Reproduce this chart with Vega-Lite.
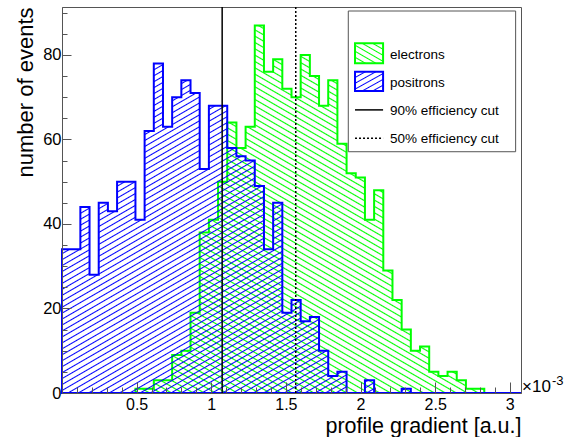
{"$schema":"https://vega.github.io/schema/vega-lite/v6.json","width":459,"height":386,"autosize":"none","padding":{"left":62,"top":7,"right":44,"bottom":44},"background":"white","config":{"font":"Liberation Sans","view":{"stroke":"#555","strokeWidth":1}},
"resolve":{"axis":{"x":"independent","y":"independent"}},
"data":{"values":[
{"x":0,"electrons":0,"positrons":34},{"x":0.0615,"electrons":0,"positrons":34},{"x":0.123,"electrons":0,"positrons":44},{"x":0.1845,"electrons":0,"positrons":28},{"x":0.246,"electrons":0,"positrons":45},{"x":0.3075,"electrons":0,"positrons":43},{"x":0.369,"electrons":0,"positrons":50},{"x":0.4305,"electrons":0,"positrons":50},{"x":0.492,"electrons":1,"positrons":41},{"x":0.5535,"electrons":1,"positrons":62},{"x":0.615,"electrons":3,"positrons":78},{"x":0.6765,"electrons":3,"positrons":63},{"x":0.738,"electrons":9,"positrons":70},{"x":0.7995,"electrons":10,"positrons":74},{"x":0.861,"electrons":19,"positrons":71},{"x":0.9225,"electrons":38,"positrons":53},{"x":0.984,"electrons":41,"positrons":68},{"x":1.0455,"electrons":50,"positrons":68},{"x":1.107,"electrons":64,"positrons":58},{"x":1.1685,"electrons":58,"positrons":56},{"x":1.23,"electrons":63,"positrons":55},{"x":1.2915,"electrons":87,"positrons":49},{"x":1.353,"electrons":76,"positrons":34},{"x":1.4145,"electrons":79,"positrons":45},{"x":1.476,"electrons":72,"positrons":19},{"x":1.5375,"electrons":70,"positrons":22},{"x":1.599,"electrons":80,"positrons":17},{"x":1.6605,"electrons":75,"positrons":18},{"x":1.722,"electrons":68,"positrons":10},{"x":1.7835,"electrons":74,"positrons":4},{"x":1.845,"electrons":59,"positrons":5},{"x":1.9065,"electrons":52,"positrons":0},{"x":1.968,"electrons":51,"positrons":0},{"x":2.0295,"electrons":41,"positrons":3},{"x":2.091,"electrons":48,"positrons":0},{"x":2.1525,"electrons":29,"positrons":0},{"x":2.214,"electrons":22,"positrons":0},{"x":2.2755,"electrons":15,"positrons":1},{"x":2.337,"electrons":10,"positrons":0},{"x":2.3985,"electrons":11,"positrons":0},{"x":2.46,"electrons":5,"positrons":0},{"x":2.5215,"electrons":4,"positrons":0},{"x":2.583,"electrons":5,"positrons":0},{"x":2.6445,"electrons":3,"positrons":0},{"x":2.706,"electrons":1,"positrons":0},{"x":2.7675,"electrons":1,"positrons":0},{"x":2.829,"electrons":0,"positrons":0},{"x":2.8905,"electrons":0,"positrons":0},{"x":2.952,"electrons":0,"positrons":0},{"x":3.0135,"electrons":0,"positrons":0},{"x":3.075,"electrons":0,"positrons":0}]},
"layer":[
{"mark":{"type":"area","interpolate":"step-after","stroke":"#0f0","strokeWidth":2,"fill":{"gradient":"linear","x1":0,"y1":1,"x2":0.8167,"y2":-0.1323,"stops":[{"offset":0,"color":"#0f0"},{"offset":0.002,"color":"#0f00"},
{"offset":0.008,"color":"#0f00"},{"offset":0.01,"color":"#0f0"},{"offset":0.012,"color":"#0f00"},{"offset":0.018,"color":"#0f00"},{"offset":0.02,"color":"#0f0"},{"offset":0.022,"color":"#0f00"},{"offset":0.028,"color":"#0f00"},{"offset":0.03,"color":"#0f0"},{"offset":0.032,"color":"#0f00"},{"offset":0.038,"color":"#0f00"},{"offset":0.04,"color":"#0f0"},{"offset":0.042,"color":"#0f00"},{"offset":0.048,"color":"#0f00"},{"offset":0.05,"color":"#0f0"},{"offset":0.052,"color":"#0f00"},{"offset":0.058,"color":"#0f00"},{"offset":0.06,"color":"#0f0"},{"offset":0.062,"color":"#0f00"},{"offset":0.068,"color":"#0f00"},{"offset":0.07,"color":"#0f0"},{"offset":0.072,"color":"#0f00"},{"offset":0.078,"color":"#0f00"},{"offset":0.08,"color":"#0f0"},{"offset":0.082,"color":"#0f00"},{"offset":0.088,"color":"#0f00"},{"offset":0.09,"color":"#0f0"},{"offset":0.092,"color":"#0f00"},
{"offset":0.098,"color":"#0f00"},{"offset":0.1,"color":"#0f0"},{"offset":0.102,"color":"#0f00"},{"offset":0.108,"color":"#0f00"},{"offset":0.11,"color":"#0f0"},{"offset":0.112,"color":"#0f00"},{"offset":0.118,"color":"#0f00"},{"offset":0.12,"color":"#0f0"},{"offset":0.122,"color":"#0f00"},{"offset":0.128,"color":"#0f00"},{"offset":0.13,"color":"#0f0"},{"offset":0.132,"color":"#0f00"},{"offset":0.138,"color":"#0f00"},{"offset":0.14,"color":"#0f0"},{"offset":0.142,"color":"#0f00"},{"offset":0.148,"color":"#0f00"},{"offset":0.15,"color":"#0f0"},{"offset":0.152,"color":"#0f00"},{"offset":0.158,"color":"#0f00"},{"offset":0.16,"color":"#0f0"},{"offset":0.162,"color":"#0f00"},{"offset":0.168,"color":"#0f00"},{"offset":0.17,"color":"#0f0"},{"offset":0.172,"color":"#0f00"},{"offset":0.178,"color":"#0f00"},{"offset":0.18,"color":"#0f0"},{"offset":0.182,"color":"#0f00"},{"offset":0.188,"color":"#0f00"},{"offset":0.19,"color":"#0f0"},{"offset":0.192,"color":"#0f00"},
{"offset":0.198,"color":"#0f00"},{"offset":0.2,"color":"#0f0"},{"offset":0.202,"color":"#0f00"},{"offset":0.208,"color":"#0f00"},{"offset":0.21,"color":"#0f0"},{"offset":0.212,"color":"#0f00"},{"offset":0.218,"color":"#0f00"},{"offset":0.22,"color":"#0f0"},{"offset":0.222,"color":"#0f00"},{"offset":0.228,"color":"#0f00"},{"offset":0.23,"color":"#0f0"},{"offset":0.232,"color":"#0f00"},{"offset":0.238,"color":"#0f00"},{"offset":0.24,"color":"#0f0"},{"offset":0.242,"color":"#0f00"},{"offset":0.248,"color":"#0f00"},{"offset":0.25,"color":"#0f0"},{"offset":0.252,"color":"#0f00"},{"offset":0.258,"color":"#0f00"},{"offset":0.26,"color":"#0f0"},{"offset":0.262,"color":"#0f00"},{"offset":0.268,"color":"#0f00"},{"offset":0.27,"color":"#0f0"},{"offset":0.272,"color":"#0f00"},{"offset":0.278,"color":"#0f00"},{"offset":0.28,"color":"#0f0"},{"offset":0.282,"color":"#0f00"},{"offset":0.288,"color":"#0f00"},{"offset":0.29,"color":"#0f0"},{"offset":0.292,"color":"#0f00"},
{"offset":0.298,"color":"#0f00"},{"offset":0.3,"color":"#0f0"},{"offset":0.302,"color":"#0f00"},{"offset":0.308,"color":"#0f00"},{"offset":0.31,"color":"#0f0"},{"offset":0.312,"color":"#0f00"},{"offset":0.318,"color":"#0f00"},{"offset":0.32,"color":"#0f0"},{"offset":0.322,"color":"#0f00"},{"offset":0.328,"color":"#0f00"},{"offset":0.33,"color":"#0f0"},{"offset":0.332,"color":"#0f00"},{"offset":0.338,"color":"#0f00"},{"offset":0.34,"color":"#0f0"},{"offset":0.342,"color":"#0f00"},{"offset":0.348,"color":"#0f00"},{"offset":0.35,"color":"#0f0"},{"offset":0.352,"color":"#0f00"},{"offset":0.358,"color":"#0f00"},{"offset":0.36,"color":"#0f0"},{"offset":0.362,"color":"#0f00"},{"offset":0.368,"color":"#0f00"},{"offset":0.37,"color":"#0f0"},{"offset":0.372,"color":"#0f00"},{"offset":0.378,"color":"#0f00"},{"offset":0.38,"color":"#0f0"},{"offset":0.382,"color":"#0f00"},{"offset":0.388,"color":"#0f00"},{"offset":0.39,"color":"#0f0"},{"offset":0.392,"color":"#0f00"},
{"offset":0.398,"color":"#0f00"},{"offset":0.4,"color":"#0f0"},{"offset":0.402,"color":"#0f00"},{"offset":0.408,"color":"#0f00"},{"offset":0.41,"color":"#0f0"},{"offset":0.412,"color":"#0f00"},{"offset":0.418,"color":"#0f00"},{"offset":0.42,"color":"#0f0"},{"offset":0.422,"color":"#0f00"},{"offset":0.428,"color":"#0f00"},{"offset":0.43,"color":"#0f0"},{"offset":0.432,"color":"#0f00"},{"offset":0.438,"color":"#0f00"},{"offset":0.44,"color":"#0f0"},{"offset":0.442,"color":"#0f00"},{"offset":0.448,"color":"#0f00"},{"offset":0.45,"color":"#0f0"},{"offset":0.452,"color":"#0f00"},{"offset":0.458,"color":"#0f00"},{"offset":0.46,"color":"#0f0"},{"offset":0.462,"color":"#0f00"},{"offset":0.468,"color":"#0f00"},{"offset":0.47,"color":"#0f0"},{"offset":0.472,"color":"#0f00"},{"offset":0.478,"color":"#0f00"},{"offset":0.48,"color":"#0f0"},{"offset":0.482,"color":"#0f00"},{"offset":0.488,"color":"#0f00"},{"offset":0.49,"color":"#0f0"},{"offset":0.492,"color":"#0f00"},
{"offset":0.498,"color":"#0f00"},{"offset":0.5,"color":"#0f0"},{"offset":0.502,"color":"#0f00"},{"offset":0.508,"color":"#0f00"},{"offset":0.51,"color":"#0f0"},{"offset":0.512,"color":"#0f00"},{"offset":0.518,"color":"#0f00"},{"offset":0.52,"color":"#0f0"},{"offset":0.522,"color":"#0f00"},{"offset":0.528,"color":"#0f00"},{"offset":0.53,"color":"#0f0"},{"offset":0.532,"color":"#0f00"},{"offset":0.538,"color":"#0f00"},{"offset":0.54,"color":"#0f0"},{"offset":0.542,"color":"#0f00"},{"offset":0.548,"color":"#0f00"},{"offset":0.55,"color":"#0f0"},{"offset":0.552,"color":"#0f00"},{"offset":0.558,"color":"#0f00"},{"offset":0.56,"color":"#0f0"},{"offset":0.562,"color":"#0f00"},{"offset":0.568,"color":"#0f00"},{"offset":0.57,"color":"#0f0"},{"offset":0.572,"color":"#0f00"},{"offset":0.578,"color":"#0f00"},{"offset":0.58,"color":"#0f0"},{"offset":0.582,"color":"#0f00"},{"offset":0.588,"color":"#0f00"},{"offset":0.59,"color":"#0f0"},{"offset":0.592,"color":"#0f00"},
{"offset":0.598,"color":"#0f00"},{"offset":0.6,"color":"#0f0"},{"offset":0.602,"color":"#0f00"},{"offset":0.608,"color":"#0f00"},{"offset":0.61,"color":"#0f0"},{"offset":0.612,"color":"#0f00"},{"offset":0.618,"color":"#0f00"},{"offset":0.62,"color":"#0f0"},{"offset":0.622,"color":"#0f00"},{"offset":0.628,"color":"#0f00"},{"offset":0.63,"color":"#0f0"},{"offset":0.632,"color":"#0f00"},{"offset":0.638,"color":"#0f00"},{"offset":0.64,"color":"#0f0"},{"offset":0.642,"color":"#0f00"},{"offset":0.648,"color":"#0f00"},{"offset":0.65,"color":"#0f0"},{"offset":0.652,"color":"#0f00"},{"offset":0.658,"color":"#0f00"},{"offset":0.66,"color":"#0f0"},{"offset":0.662,"color":"#0f00"},{"offset":0.668,"color":"#0f00"},{"offset":0.67,"color":"#0f0"},{"offset":0.672,"color":"#0f00"},{"offset":0.678,"color":"#0f00"},{"offset":0.68,"color":"#0f0"},{"offset":0.682,"color":"#0f00"},{"offset":0.688,"color":"#0f00"},{"offset":0.69,"color":"#0f0"},{"offset":0.692,"color":"#0f00"},
{"offset":0.698,"color":"#0f00"},{"offset":0.7,"color":"#0f0"},{"offset":0.702,"color":"#0f00"},{"offset":0.708,"color":"#0f00"},{"offset":0.71,"color":"#0f0"},{"offset":0.712,"color":"#0f00"},{"offset":0.718,"color":"#0f00"},{"offset":0.72,"color":"#0f0"},{"offset":0.722,"color":"#0f00"},{"offset":0.728,"color":"#0f00"},{"offset":0.73,"color":"#0f0"},{"offset":0.732,"color":"#0f00"},{"offset":0.738,"color":"#0f00"},{"offset":0.74,"color":"#0f0"},{"offset":0.742,"color":"#0f00"},{"offset":0.748,"color":"#0f00"},{"offset":0.75,"color":"#0f0"},{"offset":0.752,"color":"#0f00"},{"offset":0.758,"color":"#0f00"},{"offset":0.76,"color":"#0f0"},{"offset":0.762,"color":"#0f00"},{"offset":0.768,"color":"#0f00"},{"offset":0.77,"color":"#0f0"},{"offset":0.772,"color":"#0f00"},{"offset":0.778,"color":"#0f00"},{"offset":0.78,"color":"#0f0"},{"offset":0.782,"color":"#0f00"},{"offset":0.788,"color":"#0f00"},{"offset":0.79,"color":"#0f0"},{"offset":0.792,"color":"#0f00"},
{"offset":0.798,"color":"#0f00"},{"offset":0.8,"color":"#0f0"},{"offset":0.802,"color":"#0f00"},{"offset":0.808,"color":"#0f00"},{"offset":0.81,"color":"#0f0"},{"offset":0.812,"color":"#0f00"},{"offset":0.818,"color":"#0f00"},{"offset":0.82,"color":"#0f0"},{"offset":0.822,"color":"#0f00"},{"offset":0.828,"color":"#0f00"},{"offset":0.83,"color":"#0f0"},{"offset":0.832,"color":"#0f00"},{"offset":0.838,"color":"#0f00"},{"offset":0.84,"color":"#0f0"},{"offset":0.842,"color":"#0f00"},{"offset":0.848,"color":"#0f00"},{"offset":0.85,"color":"#0f0"},{"offset":0.852,"color":"#0f00"},{"offset":0.858,"color":"#0f00"},{"offset":0.86,"color":"#0f0"},{"offset":0.862,"color":"#0f00"},{"offset":0.868,"color":"#0f00"},{"offset":0.87,"color":"#0f0"},{"offset":0.872,"color":"#0f00"},{"offset":0.878,"color":"#0f00"},{"offset":0.88,"color":"#0f0"},{"offset":0.882,"color":"#0f00"},{"offset":0.888,"color":"#0f00"},{"offset":0.89,"color":"#0f0"},{"offset":0.892,"color":"#0f00"},
{"offset":0.898,"color":"#0f00"},{"offset":0.9,"color":"#0f0"},{"offset":0.902,"color":"#0f00"},{"offset":0.908,"color":"#0f00"},{"offset":0.91,"color":"#0f0"},{"offset":0.912,"color":"#0f00"},{"offset":0.918,"color":"#0f00"},{"offset":0.92,"color":"#0f0"},{"offset":0.922,"color":"#0f00"},{"offset":0.928,"color":"#0f00"},{"offset":0.93,"color":"#0f0"},{"offset":0.932,"color":"#0f00"},{"offset":0.938,"color":"#0f00"},{"offset":0.94,"color":"#0f0"},{"offset":0.942,"color":"#0f00"},{"offset":0.948,"color":"#0f00"},{"offset":0.95,"color":"#0f0"},{"offset":0.952,"color":"#0f00"},{"offset":0.958,"color":"#0f00"},{"offset":0.96,"color":"#0f0"},{"offset":0.962,"color":"#0f00"},{"offset":0.968,"color":"#0f00"},{"offset":0.97,"color":"#0f0"},{"offset":0.972,"color":"#0f00"},{"offset":0.978,"color":"#0f00"},{"offset":0.98,"color":"#0f0"},{"offset":0.982,"color":"#0f00"},{"offset":0.988,"color":"#0f00"},{"offset":0.99,"color":"#0f0"},{"offset":0.992,"color":"#0f00"},
{"offset":0.998,"color":"#0f00"},{"offset":1,"color":"#0f0"}]}},
"encoding":{"x":{"field":"x","type":"quantitative","scale":{"domain":[0,3.075],"nice":false,"zero":false},"axis":{"orient":"bottom","title":"profile gradient [a.u.]","zindex":1,"values":[0.5,1,1.5,2,2.5,3],"format":"~g","tickSize":-11,"labelPadding":14,"labelFontSize":16,"labelColor":"black","labelFlush":false,"labelOverlap":false,"domain":true,"domainColor":"#555","tickColor":"#555","grid":false,"titleFontSize":21.5,"titleFontWeight":"normal","titleColor":"black","titleAlign":"right","titleAnchor":"end","titleBaseline":"alphabetic","titleX":459,"titleY":39}},
"y":{"field":"electrons","type":"quantitative","stack":null,"scale":{"domain":[0,91.35],"nice":false,"zero":false},"axis":{"orient":"left","title":"number of events","zindex":1,"values":[0,20,40,60,80],"tickSize":-9,"labelPadding":10,"labelFontSize":16.5,"labelColor":"black","labelOverlap":false,"labelFlush":false,"domainColor":"#555","tickColor":"#555","grid":false,"titleFontSize":22,"titleFontWeight":"normal","titleColor":"black","titleAngle":270,"titleAlign":"right","titleAnchor":"end","titleBaseline":"alphabetic","titleX":-30,"titleY":0}}}},
{"mark":{"type":"area","interpolate":"step-after","stroke":"#00f","strokeWidth":2,"fill":{"gradient":"linear","x1":0,"y1":0,"x2":0.8812,"y2":1.0956,"stops":[{"offset":0,"color":"#00f"},{"offset":0.002,"color":"#00f0"},
{"offset":0.008,"color":"#00f0"},{"offset":0.01,"color":"#00f"},{"offset":0.012,"color":"#00f0"},{"offset":0.018,"color":"#00f0"},{"offset":0.02,"color":"#00f"},{"offset":0.022,"color":"#00f0"},{"offset":0.028,"color":"#00f0"},{"offset":0.03,"color":"#00f"},{"offset":0.032,"color":"#00f0"},{"offset":0.038,"color":"#00f0"},{"offset":0.04,"color":"#00f"},{"offset":0.042,"color":"#00f0"},{"offset":0.048,"color":"#00f0"},{"offset":0.05,"color":"#00f"},{"offset":0.052,"color":"#00f0"},{"offset":0.058,"color":"#00f0"},{"offset":0.06,"color":"#00f"},{"offset":0.062,"color":"#00f0"},{"offset":0.068,"color":"#00f0"},{"offset":0.07,"color":"#00f"},{"offset":0.072,"color":"#00f0"},{"offset":0.078,"color":"#00f0"},{"offset":0.08,"color":"#00f"},{"offset":0.082,"color":"#00f0"},{"offset":0.088,"color":"#00f0"},{"offset":0.09,"color":"#00f"},{"offset":0.092,"color":"#00f0"},
{"offset":0.098,"color":"#00f0"},{"offset":0.1,"color":"#00f"},{"offset":0.102,"color":"#00f0"},{"offset":0.108,"color":"#00f0"},{"offset":0.11,"color":"#00f"},{"offset":0.112,"color":"#00f0"},{"offset":0.118,"color":"#00f0"},{"offset":0.12,"color":"#00f"},{"offset":0.122,"color":"#00f0"},{"offset":0.128,"color":"#00f0"},{"offset":0.13,"color":"#00f"},{"offset":0.132,"color":"#00f0"},{"offset":0.138,"color":"#00f0"},{"offset":0.14,"color":"#00f"},{"offset":0.142,"color":"#00f0"},{"offset":0.148,"color":"#00f0"},{"offset":0.15,"color":"#00f"},{"offset":0.152,"color":"#00f0"},{"offset":0.158,"color":"#00f0"},{"offset":0.16,"color":"#00f"},{"offset":0.162,"color":"#00f0"},{"offset":0.168,"color":"#00f0"},{"offset":0.17,"color":"#00f"},{"offset":0.172,"color":"#00f0"},{"offset":0.178,"color":"#00f0"},{"offset":0.18,"color":"#00f"},{"offset":0.182,"color":"#00f0"},{"offset":0.188,"color":"#00f0"},{"offset":0.19,"color":"#00f"},{"offset":0.192,"color":"#00f0"},
{"offset":0.198,"color":"#00f0"},{"offset":0.2,"color":"#00f"},{"offset":0.202,"color":"#00f0"},{"offset":0.208,"color":"#00f0"},{"offset":0.21,"color":"#00f"},{"offset":0.212,"color":"#00f0"},{"offset":0.218,"color":"#00f0"},{"offset":0.22,"color":"#00f"},{"offset":0.222,"color":"#00f0"},{"offset":0.228,"color":"#00f0"},{"offset":0.23,"color":"#00f"},{"offset":0.232,"color":"#00f0"},{"offset":0.238,"color":"#00f0"},{"offset":0.24,"color":"#00f"},{"offset":0.242,"color":"#00f0"},{"offset":0.248,"color":"#00f0"},{"offset":0.25,"color":"#00f"},{"offset":0.252,"color":"#00f0"},{"offset":0.258,"color":"#00f0"},{"offset":0.26,"color":"#00f"},{"offset":0.262,"color":"#00f0"},{"offset":0.268,"color":"#00f0"},{"offset":0.27,"color":"#00f"},{"offset":0.272,"color":"#00f0"},{"offset":0.278,"color":"#00f0"},{"offset":0.28,"color":"#00f"},{"offset":0.282,"color":"#00f0"},{"offset":0.288,"color":"#00f0"},{"offset":0.29,"color":"#00f"},{"offset":0.292,"color":"#00f0"},
{"offset":0.298,"color":"#00f0"},{"offset":0.3,"color":"#00f"},{"offset":0.302,"color":"#00f0"},{"offset":0.308,"color":"#00f0"},{"offset":0.31,"color":"#00f"},{"offset":0.312,"color":"#00f0"},{"offset":0.318,"color":"#00f0"},{"offset":0.32,"color":"#00f"},{"offset":0.322,"color":"#00f0"},{"offset":0.328,"color":"#00f0"},{"offset":0.33,"color":"#00f"},{"offset":0.332,"color":"#00f0"},{"offset":0.338,"color":"#00f0"},{"offset":0.34,"color":"#00f"},{"offset":0.342,"color":"#00f0"},{"offset":0.348,"color":"#00f0"},{"offset":0.35,"color":"#00f"},{"offset":0.352,"color":"#00f0"},{"offset":0.358,"color":"#00f0"},{"offset":0.36,"color":"#00f"},{"offset":0.362,"color":"#00f0"},{"offset":0.368,"color":"#00f0"},{"offset":0.37,"color":"#00f"},{"offset":0.372,"color":"#00f0"},{"offset":0.378,"color":"#00f0"},{"offset":0.38,"color":"#00f"},{"offset":0.382,"color":"#00f0"},{"offset":0.388,"color":"#00f0"},{"offset":0.39,"color":"#00f"},{"offset":0.392,"color":"#00f0"},
{"offset":0.398,"color":"#00f0"},{"offset":0.4,"color":"#00f"},{"offset":0.402,"color":"#00f0"},{"offset":0.408,"color":"#00f0"},{"offset":0.41,"color":"#00f"},{"offset":0.412,"color":"#00f0"},{"offset":0.418,"color":"#00f0"},{"offset":0.42,"color":"#00f"},{"offset":0.422,"color":"#00f0"},{"offset":0.428,"color":"#00f0"},{"offset":0.43,"color":"#00f"},{"offset":0.432,"color":"#00f0"},{"offset":0.438,"color":"#00f0"},{"offset":0.44,"color":"#00f"},{"offset":0.442,"color":"#00f0"},{"offset":0.448,"color":"#00f0"},{"offset":0.45,"color":"#00f"},{"offset":0.452,"color":"#00f0"},{"offset":0.458,"color":"#00f0"},{"offset":0.46,"color":"#00f"},{"offset":0.462,"color":"#00f0"},{"offset":0.468,"color":"#00f0"},{"offset":0.47,"color":"#00f"},{"offset":0.472,"color":"#00f0"},{"offset":0.478,"color":"#00f0"},{"offset":0.48,"color":"#00f"},{"offset":0.482,"color":"#00f0"},{"offset":0.488,"color":"#00f0"},{"offset":0.49,"color":"#00f"},{"offset":0.492,"color":"#00f0"},
{"offset":0.498,"color":"#00f0"},{"offset":0.5,"color":"#00f"},{"offset":0.502,"color":"#00f0"},{"offset":0.508,"color":"#00f0"},{"offset":0.51,"color":"#00f"},{"offset":0.512,"color":"#00f0"},{"offset":0.518,"color":"#00f0"},{"offset":0.52,"color":"#00f"},{"offset":0.522,"color":"#00f0"},{"offset":0.528,"color":"#00f0"},{"offset":0.53,"color":"#00f"},{"offset":0.532,"color":"#00f0"},{"offset":0.538,"color":"#00f0"},{"offset":0.54,"color":"#00f"},{"offset":0.542,"color":"#00f0"},{"offset":0.548,"color":"#00f0"},{"offset":0.55,"color":"#00f"},{"offset":0.552,"color":"#00f0"},{"offset":0.558,"color":"#00f0"},{"offset":0.56,"color":"#00f"},{"offset":0.562,"color":"#00f0"},{"offset":0.568,"color":"#00f0"},{"offset":0.57,"color":"#00f"},{"offset":0.572,"color":"#00f0"},{"offset":0.578,"color":"#00f0"},{"offset":0.58,"color":"#00f"},{"offset":0.582,"color":"#00f0"},{"offset":0.588,"color":"#00f0"},{"offset":0.59,"color":"#00f"},{"offset":0.592,"color":"#00f0"},
{"offset":0.598,"color":"#00f0"},{"offset":0.6,"color":"#00f"},{"offset":0.602,"color":"#00f0"},{"offset":0.608,"color":"#00f0"},{"offset":0.61,"color":"#00f"},{"offset":0.612,"color":"#00f0"},{"offset":0.618,"color":"#00f0"},{"offset":0.62,"color":"#00f"},{"offset":0.622,"color":"#00f0"},{"offset":0.628,"color":"#00f0"},{"offset":0.63,"color":"#00f"},{"offset":0.632,"color":"#00f0"},{"offset":0.638,"color":"#00f0"},{"offset":0.64,"color":"#00f"},{"offset":0.642,"color":"#00f0"},{"offset":0.648,"color":"#00f0"},{"offset":0.65,"color":"#00f"},{"offset":0.652,"color":"#00f0"},{"offset":0.658,"color":"#00f0"},{"offset":0.66,"color":"#00f"},{"offset":0.662,"color":"#00f0"},{"offset":0.668,"color":"#00f0"},{"offset":0.67,"color":"#00f"},{"offset":0.672,"color":"#00f0"},{"offset":0.678,"color":"#00f0"},{"offset":0.68,"color":"#00f"},{"offset":0.682,"color":"#00f0"},{"offset":0.688,"color":"#00f0"},{"offset":0.69,"color":"#00f"},{"offset":0.692,"color":"#00f0"},
{"offset":0.698,"color":"#00f0"},{"offset":0.7,"color":"#00f"},{"offset":0.702,"color":"#00f0"},{"offset":0.708,"color":"#00f0"},{"offset":0.71,"color":"#00f"},{"offset":0.712,"color":"#00f0"},{"offset":0.718,"color":"#00f0"},{"offset":0.72,"color":"#00f"},{"offset":0.722,"color":"#00f0"},{"offset":0.728,"color":"#00f0"},{"offset":0.73,"color":"#00f"},{"offset":0.732,"color":"#00f0"},{"offset":0.738,"color":"#00f0"},{"offset":0.74,"color":"#00f"},{"offset":0.742,"color":"#00f0"},{"offset":0.748,"color":"#00f0"},{"offset":0.75,"color":"#00f"},{"offset":0.752,"color":"#00f0"},{"offset":0.758,"color":"#00f0"},{"offset":0.76,"color":"#00f"},{"offset":0.762,"color":"#00f0"},{"offset":0.768,"color":"#00f0"},{"offset":0.77,"color":"#00f"},{"offset":0.772,"color":"#00f0"},{"offset":0.778,"color":"#00f0"},{"offset":0.78,"color":"#00f"},{"offset":0.782,"color":"#00f0"},{"offset":0.788,"color":"#00f0"},{"offset":0.79,"color":"#00f"},{"offset":0.792,"color":"#00f0"},
{"offset":0.798,"color":"#00f0"},{"offset":0.8,"color":"#00f"},{"offset":0.802,"color":"#00f0"},{"offset":0.808,"color":"#00f0"},{"offset":0.81,"color":"#00f"},{"offset":0.812,"color":"#00f0"},{"offset":0.818,"color":"#00f0"},{"offset":0.82,"color":"#00f"},{"offset":0.822,"color":"#00f0"},{"offset":0.828,"color":"#00f0"},{"offset":0.83,"color":"#00f"},{"offset":0.832,"color":"#00f0"},{"offset":0.838,"color":"#00f0"},{"offset":0.84,"color":"#00f"},{"offset":0.842,"color":"#00f0"},{"offset":0.848,"color":"#00f0"},{"offset":0.85,"color":"#00f"},{"offset":0.852,"color":"#00f0"},{"offset":0.858,"color":"#00f0"},{"offset":0.86,"color":"#00f"},{"offset":0.862,"color":"#00f0"},{"offset":0.868,"color":"#00f0"},{"offset":0.87,"color":"#00f"},{"offset":0.872,"color":"#00f0"},{"offset":0.878,"color":"#00f0"},{"offset":0.88,"color":"#00f"},{"offset":0.882,"color":"#00f0"},{"offset":0.888,"color":"#00f0"},{"offset":0.89,"color":"#00f"},{"offset":0.892,"color":"#00f0"},
{"offset":0.898,"color":"#00f0"},{"offset":0.9,"color":"#00f"},{"offset":0.902,"color":"#00f0"},{"offset":0.908,"color":"#00f0"},{"offset":0.91,"color":"#00f"},{"offset":0.912,"color":"#00f0"},{"offset":0.918,"color":"#00f0"},{"offset":0.92,"color":"#00f"},{"offset":0.922,"color":"#00f0"},{"offset":0.928,"color":"#00f0"},{"offset":0.93,"color":"#00f"},{"offset":0.932,"color":"#00f0"},{"offset":0.938,"color":"#00f0"},{"offset":0.94,"color":"#00f"},{"offset":0.942,"color":"#00f0"},{"offset":0.948,"color":"#00f0"},{"offset":0.95,"color":"#00f"},{"offset":0.952,"color":"#00f0"},{"offset":0.958,"color":"#00f0"},{"offset":0.96,"color":"#00f"},{"offset":0.962,"color":"#00f0"},{"offset":0.968,"color":"#00f0"},{"offset":0.97,"color":"#00f"},{"offset":0.972,"color":"#00f0"},{"offset":0.978,"color":"#00f0"},{"offset":0.98,"color":"#00f"},{"offset":0.982,"color":"#00f0"},{"offset":0.988,"color":"#00f0"},{"offset":0.99,"color":"#00f"},{"offset":0.992,"color":"#00f0"},
{"offset":0.998,"color":"#00f0"},{"offset":1,"color":"#00f"}]}},
"encoding":{"x":{"field":"x","type":"quantitative","axis":{"orient":"bottom","title":null,"zindex":1,"values":[0.1,0.2,0.3,0.4,0.6,0.7,0.8,0.9,1.1,1.2,1.3,1.4,1.6,1.7,1.8,1.9,2.1,2.2,2.3,2.4,2.6,2.7,2.8,2.9],"labels":false,"domain":false,"tickSize":-6,"tickColor":"#555","grid":false}},"y":{"field":"positrons","type":"quantitative","stack":null,"axis":{"orient":"left","title":null,"zindex":1,"values":[5,10,15,25,30,35,45,50,55,65,70,75,85,90],"labels":false,"domain":false,"tickSize":-5,"tickColor":"#555","grid":false}}}},
{"data":{"values":[{}]},"mark":{"type":"rule","color":"black","strokeWidth":1.5},"encoding":{"x":{"datum":1.073,"axis":null}}},
{"data":{"values":[{}]},"mark":{"type":"rule","color":"black","strokeWidth":1.5,"strokeDash":[2,2]},"encoding":{"x":{"datum":1.566,"axis":null}}},
{"data":{"values":[{}]},"mark":{"type":"rect","fill":"white","stroke":"#555","strokeWidth":1},"encoding":{"x":{"datum":1.918,"axis":null},"x2":{"datum":3.039},"y":{"datum":90.4,"axis":null},"y2":{"datum":57.1}}},
{"data":{"values":[{}]},"mark":{"type":"rect","stroke":"#0f0","strokeWidth":2,"fill":{"gradient":"linear","x1":0,"y1":1,"x2":0.885,"y2":-0.094,"stops":[{"offset":0,"color":"#0f0"},{"offset":0.032,"color":"#0f00"},{"offset":0.135,"color":"#0f00"},{"offset":0.167,"color":"#0f0"},{"offset":0.199,"color":"#0f00"},{"offset":0.301,"color":"#0f00"},{"offset":0.333,"color":"#0f0"},{"offset":0.365,"color":"#0f00"},{"offset":0.468,"color":"#0f00"},{"offset":0.5,"color":"#0f0"},{"offset":0.532,"color":"#0f00"},{"offset":0.635,"color":"#0f00"},{"offset":0.667,"color":"#0f0"},{"offset":0.699,"color":"#0f00"},{"offset":0.801,"color":"#0f00"},{"offset":0.833,"color":"#0f0"},{"offset":0.865,"color":"#0f00"},{"offset":0.968,"color":"#0f00"},{"offset":1,"color":"#0f0"}]}},"encoding":{"x":{"datum":1.963,"axis":null},"x2":{"datum":2.151},"y":{"datum":82.76,"axis":null},"y2":{"datum":78.03}}},
{"data":{"values":[{}]},"mark":{"type":"rect","stroke":"#00f","strokeWidth":2,"fill":{"gradient":"linear","x1":0,"y1":0,"x2":0.885,"y2":1.094,"stops":[{"offset":0,"color":"#00f"},{"offset":0.032,"color":"#00f0"},{"offset":0.135,"color":"#00f0"},{"offset":0.167,"color":"#00f"},{"offset":0.199,"color":"#00f0"},{"offset":0.301,"color":"#00f0"},{"offset":0.333,"color":"#00f"},{"offset":0.365,"color":"#00f0"},{"offset":0.468,"color":"#00f0"},{"offset":0.5,"color":"#00f"},{"offset":0.532,"color":"#00f0"},{"offset":0.635,"color":"#00f0"},{"offset":0.667,"color":"#00f"},{"offset":0.699,"color":"#00f0"},{"offset":0.801,"color":"#00f0"},{"offset":0.833,"color":"#00f"},{"offset":0.865,"color":"#00f0"},{"offset":0.968,"color":"#00f0"},{"offset":1,"color":"#00f"}]}},"encoding":{"x":{"datum":1.963,"axis":null},"x2":{"datum":2.151},"y":{"datum":76.04,"axis":null},"y2":{"datum":71.47}}},
{"data":{"values":[{}]},"mark":{"type":"rule","color":"black","strokeWidth":1.5},"encoding":{"x":{"datum":1.963,"axis":null},"x2":{"datum":2.151},"y":{"datum":67.0,"axis":null}}},
{"data":{"values":[{}]},"mark":{"type":"rule","color":"black","strokeWidth":1.5,"strokeDash":[2,2]},"encoding":{"x":{"datum":1.963,"axis":null},"x2":{"datum":2.151},"y":{"datum":60.3,"axis":null}}},
{"data":{"values":[{}]},"mark":{"type":"text","text":"electrons","align":"left","baseline":"middle","fontSize":13.5,"color":"black"},"encoding":{"x":{"datum":2.198,"axis":null},"y":{"datum":80.07,"axis":null}}},
{"data":{"values":[{}]},"mark":{"type":"text","text":"positrons","align":"left","baseline":"middle","fontSize":13.5,"color":"black"},"encoding":{"x":{"datum":2.198,"axis":null},"y":{"datum":73.29,"axis":null}}},
{"data":{"values":[{}]},"mark":{"type":"text","text":"90% efficiency cut","align":"left","baseline":"middle","fontSize":13.5,"color":"black"},"encoding":{"x":{"datum":2.198,"axis":null},"y":{"datum":66.74,"axis":null}}},
{"data":{"values":[{}]},"mark":{"type":"text","text":"50% efficiency cut","align":"left","baseline":"middle","fontSize":13.5,"color":"black"},"encoding":{"x":{"datum":2.198,"axis":null},"y":{"datum":60.11,"axis":null}}},
{"data":{"values":[{}]},"mark":{"type":"text","text":"×10","align":"left","baseline":"alphabetic","fontSize":17,"color":"black","dx":1,"dy":-1},"encoding":{"x":{"datum":3.075,"axis":null},"y":{"datum":0,"axis":null}}},
{"data":{"values":[{}]},"mark":{"type":"text","text":"-3","align":"left","baseline":"alphabetic","fontSize":13,"color":"black","dx":31,"dy":-8},"encoding":{"x":{"datum":3.075,"axis":null},"y":{"datum":0,"axis":null}}}
]}
